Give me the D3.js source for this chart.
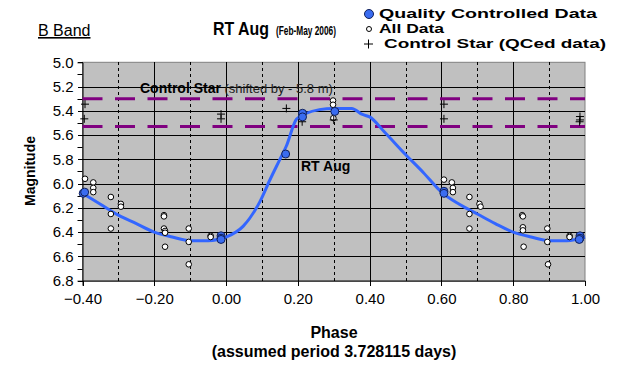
<!DOCTYPE html>
<meta charset="utf-8">
<style>
  body { margin: 0; background: #fff; }
  svg text { font-family: Arial, "Liberation Sans", sans-serif; fill: #000; }
</style>
<script src="https://d3js.org/d3.v7.min.js"></script>
<svg id="chart" width="619" height="366"></svg>
<script>

// fitted light curve (phase, magnitude)
var curvePhase = [-0.40, -0.35, -0.30, -0.25, -0.20, -0.15, -0.10, -0.05, 0.00, 0.048,
                  0.094, 0.122, 0.150, 0.168, 0.196, 0.224, 0.26, 0.30, 0.35, 0.38,
                  0.40, 0.44, 0.50, 0.55, 0.60, 0.65, 0.70, 0.75, 0.80, 0.85,
                  0.90, 0.95, 1.00];
var curveMag   = [6.08, 6.17, 6.26, 6.33, 6.40, 6.44, 6.47, 6.47, 6.44, 6.35,
                  6.15, 5.97, 5.80, 5.69, 5.47, 5.42, 5.39, 5.38, 5.38, 5.43,
                  5.45, 5.57, 5.76, 5.91, 6.07, 6.17, 6.25, 6.33, 6.40, 6.44,
                  6.47, 6.47, 6.44];

// quality controlled data
var qcPhase = [-0.398, -0.394, -0.014, -0.014, -0.014, 0.166, 0.213, 0.213, 0.303, 0.607, 0.607, 0.986, 0.986, 0.984];
var qcMag   = [6.08, 6.07, 6.43, 6.45, 6.46, 5.756, 5.42, 5.45, 5.405, 6.063, 6.08, 6.43, 6.45, 6.46];

// all data
var allPhase = [-0.393, -0.37, -0.37, -0.37, -0.321, -0.293, -0.293, -0.321, -0.321,
                -0.173, -0.173, -0.173, -0.17, -0.17, -0.17, -0.104, -0.104, -0.104,
                -0.043, -0.043, 0.298, 0.298, 0.299,
                0.607, 0.629, 0.632, 0.632, 0.678, 0.706, 0.709, 0.678, 0.678,
                0.825, 0.827, 0.827, 0.827, 0.829, 0.895, 0.895, 0.897, 0.957, 0.957];
var allMag   = [5.96, 5.99, 6.035, 6.07, 6.11, 6.167, 6.19, 6.25, 6.37,
                6.26, 6.27, 6.37, 6.39, 6.405, 6.52, 6.37, 6.48, 6.665,
                6.43, 6.44, 5.315, 5.35, 5.46,
                5.967, 5.99, 6.035, 6.07, 6.11, 6.167, 6.19, 6.25, 6.37,
                6.26, 6.27, 6.36, 6.385, 6.52, 6.37, 6.48, 6.665, 6.43, 6.44];

// control star (shifted by -5.8 m)
var ctrlPhase = [-0.393, -0.395, -0.014, -0.014, 0.168, 0.212, 0.300, 0.607, 0.607, 0.986, 0.986, 0.985];
var ctrlMag   = [5.345, 5.466, 5.427, 5.466, 5.38, 5.49, 5.475, 5.345, 5.466, 5.447, 5.475, 5.49];
var ctrlBand  = [5.30, 5.53];

var xTicks = [-0.4, -0.2, 0.0, 0.2, 0.4, 0.6, 0.8, 1.0];
var yTicks = [5.0, 5.2, 5.4, 5.6, 5.8, 6.0, 6.2, 6.4, 6.6, 6.8];

var legendLabels = ["Quality Controlled Data", "All Data", "Control Star (QCed data)"];

var svg = d3.select("#chart");
var x = d3.scaleLinear().domain([-0.4, 1.0]).range([82.5, 585]);
var y = d3.scaleLinear().domain([5.0, 6.8]).range([62.3, 280.7]);

// plot area
svg.append("rect")
  .attr("x", x(-0.4)).attr("y", y(5.0))
  .attr("width", x(1.0) - x(-0.4)).attr("height", y(6.8) - y(5.0))
  .attr("fill", "#c0c0c0")
  .attr("stroke", "#808080");

// grid
var g = svg.append("g").attr("shape-rendering", "crispEdges");
g.selectAll(".hg").data(yTicks.slice(1, -1)).enter().append("line")
  .attr("x1", x(-0.4)).attr("x2", x(1.0))
  .attr("y1", d => Math.round(y(d)) + 0.5).attr("y2", d => Math.round(y(d)) + 0.5)
  .attr("stroke", "#000");
g.selectAll(".vg").data(d3.range(-3, 10)).enter().append("line")
  .attr("x1", d => Math.round(x(d / 10)) + 0.5).attr("x2", d => Math.round(x(d / 10)) + 0.5)
  .attr("y1", y(5.0)).attr("y2", y(6.8))
  .attr("stroke", "#000")
  .attr("stroke-dasharray", d => (Math.abs(d) % 2 === 1) ? "3,3" : null);

// axes
var yAxis = d3.axisLeft(y).tickValues(yTicks).tickFormat(d3.format(".1f")).tickSize(5).tickPadding(4);
var ay = svg.append("g").attr("transform", "translate(" + x(-0.4) + ",0)").call(yAxis);
ay.selectAll("line").attr("shape-rendering", "crispEdges");
ay.selectAll("text").style("font-size", "15px");
ay.select(".domain").attr("stroke", "#000");
ay.selectAll(".minor").data(d3.range(5.1, 6.8, 0.2)).enter().append("line")
  .attr("x1", 0).attr("x2", -5)
  .attr("y1", d => Math.round(y(d)) + 0.5).attr("y2", d => Math.round(y(d)) + 0.5)
  .attr("stroke", "#000");

var xAxis = d3.axisBottom(x).tickValues(xTicks).tickFormat(d3.format(".2f")).tickSize(5).tickPadding(8);
var ax = svg.append("g").attr("transform", "translate(0," + y(6.8) + ")").call(xAxis);
ax.selectAll("line").attr("shape-rendering", "crispEdges");
ax.selectAll("text").style("font-size", "15px");
ax.selectAll("path").attr("stroke", "#000");

// control star band
svg.selectAll(".band").data(ctrlBand).enter().append("line")
  .attr("x1", x(-0.4)).attr("x2", x(1.0))
  .attr("y1", d => y(d)).attr("y2", d => y(d))
  .attr("stroke", "#800080").attr("stroke-width", 3)
  .attr("stroke-dasharray", "20,12.5");

// fitted curve
var line = d3.line().x(d => x(d[0])).y(d => y(d[1])).curve(d3.curveMonotoneX);
svg.append("path")
  .datum(d3.zip(curvePhase, curveMag))
  .attr("d", line)
  .attr("fill", "none").attr("stroke", "#3366ff").attr("stroke-width", 3);

// all data
svg.selectAll(".all").data(d3.zip(allPhase, allMag)).enter().append("circle")
  .attr("cx", d => x(d[0])).attr("cy", d => y(d[1])).attr("r", 2.8)
  .attr("fill", "#fff").attr("stroke", "#000").attr("stroke-width", 1);

// control star
svg.selectAll(".ctrl").data(d3.zip(ctrlPhase, ctrlMag)).enter().append("path")
  .attr("d", d => "M" + (x(d[0]) - 4) + "," + y(d[1]) + "h8M" + x(d[0]) + "," + (y(d[1]) - 4) + "v8")
  .attr("stroke", "#000").attr("stroke-width", 1).attr("fill", "none");

// quality controlled data
svg.selectAll(".qc").data(d3.zip(qcPhase, qcMag)).enter().append("circle")
  .attr("cx", d => x(d[0])).attr("cy", d => y(d[1])).attr("r", 4)
  .attr("fill", "#3a6cf0").attr("stroke", "#10205a").attr("stroke-width", 1);

// labels in plot
var cs = svg.append("text").attr("x", 140).attr("y", 93);
cs.append("tspan").style("font-weight", "bold").style("font-size", "14px").text("Control Star");
cs.append("tspan").style("font-size", "13px").style("fill", "#202020").text(" (shifted by - 5.8 m)");
svg.append("text").attr("x", 301).attr("y", 171)
  .style("font-weight", "bold").style("font-size", "14px").text("RT Aug");

// titles
svg.append("text").attr("x", 38).attr("y", 36)
  .style("font-size", "16px").style("text-decoration", "underline").text("B Band");
svg.append("text").attr("x", 213).attr("y", 35).attr("textLength", 56).attr("lengthAdjust", "spacingAndGlyphs")
  .style("font-weight", "bold").style("font-size", "18px").text("RT Aug");
svg.append("text").attr("x", 276).attr("y", 35).attr("textLength", 60).attr("lengthAdjust", "spacingAndGlyphs")
  .style("font-weight", "bold").style("font-size", "12px").text("(Feb-May 2006)");

svg.append("text").attr("transform", "translate(35,171) rotate(-90)")
  .attr("text-anchor", "middle").style("font-weight", "bold").style("font-size", "14px").text("Magnitude");
svg.append("text").attr("x", 334).attr("y", 338).attr("text-anchor", "middle")
  .style("font-weight", "bold").style("font-size", "16px").text("Phase");
svg.append("text").attr("x", 334).attr("y", 357).attr("text-anchor", "middle")
  .style("font-weight", "bold").style("font-size", "16px").text("(assumed period 3.728115 days)");

// legend
var lg = svg.append("g");
lg.append("circle").attr("cx", 369).attr("cy", 14).attr("r", 4.5)
  .attr("fill", "#3a6cf0").attr("stroke", "#10205a");
lg.append("circle").attr("cx", 369).attr("cy", 29).attr("r", 2.5)
  .attr("fill", "#fff").attr("stroke", "#000");
lg.append("path").attr("d", "M364,44h9M368.5,39.5v9").attr("stroke", "#000");
var legendX = [379, 379, 384], legendW = [218, 65, 222];
lg.selectAll(".lt").data(legendLabels).enter().append("text")
  .attr("x", (d, i) => legendX[i]).attr("y", (d, i) => 18 + i * 15)
  .attr("textLength", (d, i) => legendW[i]).attr("lengthAdjust", "spacingAndGlyphs")
  .style("font-weight", "bold").style("font-size", "13px").text(d => d);

</script>
